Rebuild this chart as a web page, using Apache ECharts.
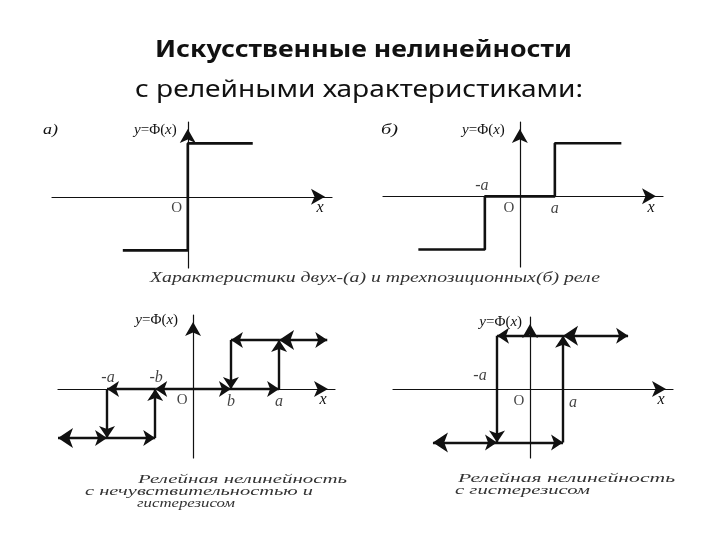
<!DOCTYPE html>
<html>
<head>
<meta charset="utf-8">
<title>Релейные характеристики</title>
<script src="https://cdn.jsdelivr.net/npm/echarts@6/dist/echarts.min.js"></script>
<style>
  html, body { margin: 0; padding: 0; background: #fff; }
  #main { width: 720px; height: 540px; }
</style>
</head>
<body>
<div id="main"></div>
<script>
// а) двухпозиционное реле
var relay2 = [[-1, -1], [0, -1], [0, 1], [1, 1]];
// б) трехпозиционное реле
var relay3 = [[-2.9, -1], [-1, -1], [-1, 0], [1, 0], [1, 1], [2.9, 1]];
// в) зона нечувствительности + гистерезис (b = 0.44 a)
var deadHystArrows = [
    [[0, 0], [0.44, 0]], [[0.44, 0], [1, 0]], [[1, 0], [1, 1]],
    [[1, 1], [0.44, 1]], [[0.44, 1], [0.44, 0]],
    [[0, 0], [-0.44, 0]], [[-0.44, 0], [-1, 0]], [[-1, 0], [-1, -1]],
    [[-1, -1], [-0.44, -1]], [[-0.44, -1], [-0.44, 0]]
];
var deadHystBoth = [[[1, 1], [1.56, 1]], [[-1.57, -1], [-1, -1]]];
// г) гистерезис
var hystArrows = [
    [[1, -1], [1, 1]], [[1, 1], [-1, 1]], [[-1, 1], [-1, -1]], [[-1, -1], [1, -1]]
];
var hystBoth = [[[1, 1], [2.97, 1]], [[-2.94, -1], [-1, -1]]];

// подписи на оси x
var ticksB = { top: [['-a', -1]], bottom: [['a', 1]] };
var ticksC = { top: [['-a', -1], ['-b', -0.44]], bottom: [['b', 0.44], ['a', 1]] };
var ticksD = { top: [['-a', -1]], bottom: [['a', 1]] };

var INK = '#111';
var SERIF = '"Liberation Serif", "DejaVu Serif", serif';

var grids = [
    { left: 52, top: 122, width: 280, height: 146 },
    { left: 383, top: 122, width: 280, height: 145 },
    { left: 58, top: 315, width: 277, height: 143 },
    { left: 393, top: 317, width: 280, height: 141 }
];
var xRanges = [[-2.09, 2.22], [-3.91, 4.09], [-1.57, 1.65], [-4.15, 4.33]];
var yRanges = [[-1.33, 1.40], [-1.33, 1.40], [-1.41, 1.51], [-1.29, 1.35]];
var yNamePad = [11, 15, 15, 8];
var yNameGap = [-8, -8, -5, -5];

function axisLine() {
    return {
        show: true, onZero: true,
        symbol: ['none', 'arrow'], symbolSize: [12, 14], symbolOffset: [0, -7],
        lineStyle: { color: INK, width: 1.2 }
    };
}

var xAxes = grids.map(function (g, i) {
    return {
        type: 'value', gridIndex: i, min: xRanges[i][0], max: xRanges[i][1],
        axisLine: axisLine(), axisTick: { show: false }, axisLabel: { show: false },
        splitLine: { show: false },
        name: 'x', nameLocation: 'end', nameGap: -12,
        nameTextStyle: { fontFamily: SERIF, fontStyle: 'italic', fontSize: 16, color: INK,
            align: 'center', verticalAlign: 'top', padding: [3, 0, 0, 0] }
    };
});
var yAxes = grids.map(function (g, i) {
    return {
        type: 'value', gridIndex: i, min: yRanges[i][0], max: yRanges[i][1],
        axisLine: axisLine(), axisTick: { show: false }, axisLabel: { show: false },
        splitLine: { show: false },
        name: '{i|y}=Φ({i|x})', nameLocation: 'end', nameGap: yNameGap[i],
        nameTextStyle: { fontFamily: SERIF, fontSize: 15, color: INK,
            align: 'right', verticalAlign: 'middle', padding: [0, yNamePad[i], 0, 0],
            rich: { i: { fontFamily: SERIF, fontStyle: 'italic', fontSize: 15, color: INK } } }
    };
});

var labelBase = { show: true, formatter: '{b}', fontFamily: SERIF, fontStyle: 'italic',
    fontSize: 16, color: INK, distance: 3 };

function tickSeries(idx, list, pos, offset, upright) {
    return {
        type: 'scatter', xAxisIndex: idx, yAxisIndex: idx, symbolSize: 0, silent: true,
        data: list.map(function (t) { return { name: t[0], value: [t[1], 0] }; }),
        label: Object.assign({}, labelBase, { position: pos, offset: offset },
            upright ? { fontStyle: 'normal', fontSize: 15 } : {})
    };
}
function arrowSeries(idx, segs, both) {
    return {
        type: 'lines', coordinateSystem: 'cartesian2d', xAxisIndex: idx, yAxisIndex: idx,
        symbol: both ? ['arrow', 'arrow'] : ['none', 'arrow'],
        symbolSize: [15, 12], symbolOffset: [0, '50%'], silent: true,
        lineStyle: { color: INK, width: 2.4, opacity: 1, curveness: 0 },
        data: segs.map(function (s) { return { coords: s }; })
    };
}

var series = [
    { type: 'line', xAxisIndex: 0, yAxisIndex: 0, data: relay2, showSymbol: false,
      lineStyle: { color: INK, width: 2.6 }, silent: true },
    { type: 'line', xAxisIndex: 1, yAxisIndex: 1, data: relay3, showSymbol: false,
      lineStyle: { color: INK, width: 2.6 }, silent: true },
    arrowSeries(2, deadHystArrows, false),
    arrowSeries(2, deadHystBoth, true),
    arrowSeries(3, hystArrows, false),
    arrowSeries(3, hystBoth, true),
    tickSeries(1, ticksB.top, 'top', [-3, 0]),
    tickSeries(1, ticksB.bottom, 'bottom', [0, 1]),
    tickSeries(2, ticksC.top, 'top', [1, 0]),
    tickSeries(2, ticksC.bottom, 'bottom', [0, 2]),
    tickSeries(3, ticksD.top, 'top', [-17, -2]),
    tickSeries(3, ticksD.bottom, 'bottom', [10, 3])
];
// начало координат "O" в каждом поле
[0, 1, 2, 3].forEach(function (i) {
    series.push(tickSeries(i, [['O', 0]], 'bottom', [-11, 1], true));
});

// подгонка ширины текста, как в исходной растянутой картинке
var measure = document.createElement('canvas').getContext('2d');
function fitText(text, font, x0, x1, yc, color) {
    measure.font = font;
    var w = measure.measureText(text).width;
    return {
        type: 'text', x: x0, y: yc, scaleX: (x1 - x0) / w, silent: true,
        style: { text: text, font: font, fill: color || INK, align: 'left', verticalAlign: 'middle' }
    };
}
var capFont = 'italic 13px ' + SERIF;
var CAP = '#333';
var graphics = [
    fitText('Искусственные нелинейности', 'bold 24px "Noto Sans"', 155, 572, 50),
    fitText('с релейными характеристиками:', '24px "Noto Sans"', 135, 583, 90),
    fitText('а)', 'italic 14px ' + SERIF, 43, 58, 130),
    fitText('б)', 'italic 14px ' + SERIF, 381, 398, 130),
    fitText('Характеристики двух-(а) и трехпозиционных(б) реле', 'italic 14px ' + SERIF, 150, 600, 278, CAP),
    fitText('Релейная нелинейность', capFont, 138, 347, 480, CAP),
    fitText('с нечувствительностью и', capFont, 85, 313, 492, CAP),
    fitText('гистерезисом', capFont, 137, 235, 504, CAP),
    fitText('Релейная нелинейность', capFont, 458, 675, 479, CAP),
    fitText('с гистерезисом', capFont, 455, 590, 491, CAP)
];

var chart = echarts.init(document.getElementById('main'));
chart.setOption({
    backgroundColor: '#fff',
    animation: false,
    grid: grids.map(function (g) {
        return Object.assign({ containLabel: false, outerBoundsMode: 'none' }, g);
    }),
    xAxis: xAxes,
    yAxis: yAxes,
    series: series,
    graphic: graphics
});
</script>
</body>
</html>
